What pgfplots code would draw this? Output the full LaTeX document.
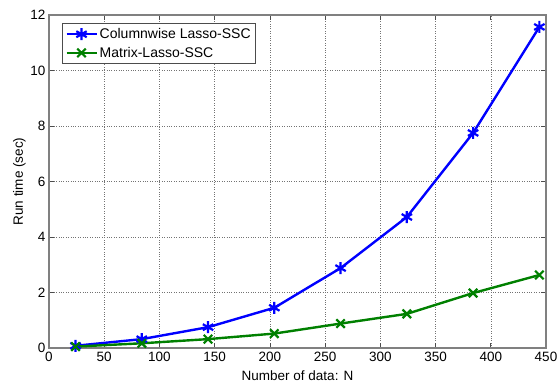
\documentclass[border=0pt]{standalone}
\usepackage{pgfplots}
\pgfplotsset{compat=1.18}
\usepackage{fontspec}
\setmainfont{Liberation Sans}
\definecolor{mblue}{rgb}{0,0,1}
\definecolor{mgreen}{rgb}{0,0.5,0}
\begin{document}
\begin{tikzpicture}
\begin{axis}[
  scale only axis,
  width=497pt, height=333pt,
  xmin=0, xmax=450, ymin=0, ymax=12,
  xtick={0,50,...,450}, ytick={0,2,...,12},
  grid=major,
  major grid style={dotted, black!55, line width=0.5pt},
  axis line style={black!50, line width=1.2pt},
  tick style={black!70, line width=0.7pt},
  major tick length=5pt,
  tick align=inside,
  xtick pos=both, ytick pos=both,
  ticklabel style={font=\fontsize{13.5}{15}\selectfont},
  /pgf/number format/assume math mode=true,
  xticklabel style={yshift=-1pt},
  xlabel={Number of data: N},
  ylabel={Run time (sec)},
  label style={font=\fontsize{13.5}{15}\selectfont},
  xlabel style={yshift=-1.5pt},
  ylabel style={yshift=-2pt},
  legend style={font=\fontsize{14}{16}\selectfont, draw=black!70, line width=0.8pt, at={(0.026,0.976)}, anchor=north west, inner xsep=3pt, inner ysep=3pt, row sep=3pt},
  legend image code/.code={\draw[mark repeat=2,mark phase=2] plot coordinates {(0pt,0pt) (15pt,0pt) (30pt,0pt)};},
  legend cell align=left,
]
\addplot[mblue, line width=2.4pt, mark=asterisk, mark size=6pt, mark options={line width=2.2pt}]
  coordinates {(24,0.08) (84,0.32) (144,0.75) (204,1.45) (264,2.88) (324,4.72) (384,7.75) (444,11.57)};
\addlegendentry{Columnwise Lasso-SSC}
\addplot[mgreen, line width=2.4pt, mark=x, mark size=6pt, mark options={line width=2.2pt}]
  coordinates {(24,0.05) (84,0.17) (144,0.32) (204,0.52) (264,0.88) (324,1.23) (384,1.98) (444,2.63)};
\addlegendentry{Matrix-Lasso-SSC}
\end{axis}
\pgfresetboundingbox
\path[use as bounding box] ([xshift=-49pt,yshift=-35pt]current axis.south west) rectangle ([xshift=13pt,yshift=15pt]current axis.north east);
\end{tikzpicture}
\end{document}
